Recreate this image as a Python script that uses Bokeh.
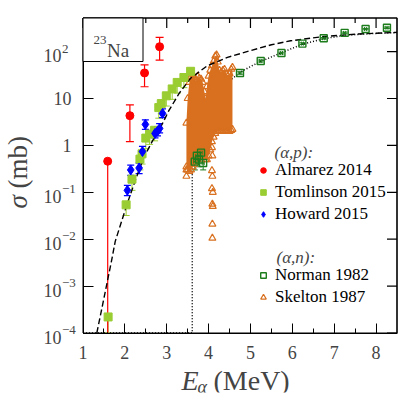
import math
from bokeh.plotting import figure
from bokeh.models import (ColumnDataSource, Whisker, TeeHead, FixedTicker, Legend, LegendItem,
                          Label, BoxAnnotation, BasicTickFormatter)
from bokeh.embed import file_html
from bokeh.resources import INLINE

# ---------------- data ----------------
x_ticks = [1, 2, 3, 4, 5, 6, 7, 8]
x_minor = [1.5, 2.5, 3.5, 4.5, 5.5, 6.5, 7.5]
x_tick_labels = ["1", "2", "3", "4", "5", "6", "7", "8"]
y_ticks = [1e-4, 1e-3, 1e-2, 1e-1, 1, 10, 100]
y_tick_base = ["10", "10", "10", "10", "1", "10", "10"]
y_tick_exp = ["\u22124", "\u22123", "\u22122", "\u22121", "", "", "2"]

# (alpha,p) Almarez 2014
alm_x = [1.59, 2.12, 2.47, 2.83]
alm_y = [0.46, 4.3, 35.0, 127.0]
alm_lo = [1e-4, 1.2, 17.8, 66.0]
alm_hi = [0.46, 7.3, 52.0, 201.0]

# (alpha,p) Tomlinson 2015
tom_x = [1.60, 2.03, 2.17, 2.36, 2.41, 2.50, 2.59, 2.71, 2.81, 2.87, 2.99, 3.13, 3.25, 3.41, 3.57]
tom_y = [2.2e-4, 0.054, 0.19, 0.51, 0.66, 1.43, 1.74, 2.1, 6.4, 7.8, 11.4, 16.0, 22.0, 28.0, 38.0]
tom_lo = [1e-4, 0.032, 0.11, 0.30, 0.40, 0.85, 1.05, 1.25, 3.8, 4.7, 6.9, 9.6, 13.0, 17.0, 23.0]
tom_hi = [2.6e-4, 0.062, 0.22, 0.58, 0.76, 1.65, 2.0, 2.4, 7.4, 9.0, 13.0, 18.5, 25.0, 32.0, 44.0]

# (alpha,p) Howard 2015
how_x = [2.06, 2.14, 2.34, 2.42, 2.49, 2.72, 2.78, 2.83, 2.90]
how_y = [0.11, 0.30, 0.33, 0.74, 2.8, 1.8, 2.0, 2.3, 4.8]
how_lo = [0.085, 0.23, 0.25, 0.6, 2.2, 1.45, 1.6, 1.85, 3.9]
how_hi = [0.14, 0.38, 0.42, 0.95, 3.5, 2.25, 2.5, 2.9, 6.0]

# (alpha,n) Norman 1982
nor_x = [3.67, 3.72, 3.77, 3.82, 3.87, 4.75, 5.245, 5.74, 6.24, 6.75, 7.25, 7.75, 8.26]
nor_y = [0.45, 0.60, 0.50, 0.70, 0.42, 35.0, 63.0, 93.0, 148.0, 192.0, 250.0, 302.0, 323.0]
nor_lo = [0.30, 0.40, 0.35, 0.50, 0.30, 33.0, 60.0, 89.0, 142.0, 185.0, 240.0, 292.0, 312.0]
nor_hi = [0.60, 1.25, 0.80, 1.05, 0.55, 37.0, 66.0, 97.0, 154.0, 199.0, 260.0, 312.0, 334.0]
nor_dx = 0.025

# (alpha,n) Skelton 1987: envelope of the dense resonance data and isolated points
sk_env_x = [3.47, 3.50, 3.54, 3.58, 3.62, 3.66, 3.70, 3.74, 3.78, 3.82, 3.86, 3.90, 3.93, 3.96,
            4.00, 4.04, 4.08, 4.12, 4.16, 4.19, 4.22, 4.26, 4.30, 4.34, 4.38, 4.42, 4.46, 4.50,
            4.54, 4.57]
sk_env_hi = [3, 10, 22, 30, 33, 28, 24, 30, 27, 26, 22, 14, 10, 18,
             30, 40, 50, 62, 80, 85, 60, 40, 36, 40, 42, 34, 30, 34,
             42, 46]
sk_env_lo = [0.35, 0.30, 0.28, 0.30, 0.35, 0.40, 0.45, 0.50, 0.55, 0.60, 0.60, 0.55, 0.50, 0.50,
             0.60, 0.80, 1.2, 1.5, 1.8, 2.0, 2.0, 2.0, 2.1, 2.0, 2.0, 2.1, 2.0, 2.0,
             2.1, 2.2]
sk_out_x = [3.47, 3.47, 4.08, 4.09, 4.08, 4.10, 4.09, 4.10, 4.09, 4.09, 4.08, 4.09]
sk_out_y = [0.22, 0.30, 0.29, 0.22, 0.12, 0.10, 0.056, 0.05, 0.021, 0.0105, 0.9, 0.6]

# model curves
dash_x = [1.33, 1.50, 1.68, 1.77, 2.05, 2.25, 2.45, 2.65, 2.85, 3.05, 3.30, 3.57, 3.97, 4.45,
          5.00, 5.50, 5.96, 6.75, 7.50, 8.50]
dash_y = [1e-4, 5.5e-4, 3.4e-3, 9e-3, 0.055, 0.18, 0.55, 1.2, 2.4, 5.5, 13, 27, 50, 75,
          105, 140, 170, 209, 235, 257]
dot_x = [1.0, 3.61, 3.61, 3.70, 3.90, 4.10, 4.40, 4.75, 5.00, 5.25, 5.75, 6.25, 6.75, 7.25,
         7.75, 8.50]
dot_y = [1e-4, 1e-4, 0.3, 1.5, 5, 10, 20, 36, 48, 62, 95, 145, 188, 222, 238, 255]

# ---------------- layout ----------------
# data box in page pixels (pixel centres); the drawing frame is larger so nothing is clipped
XMIN, XMAX = 1.0, 8.5
YMIN, YMAX = 1e-4, 520.0
BL, BR, BT, BB = 82.5, 396.5, 17.5, 332.5
W, H = 408, 395
ML, MR, MT, MB = 3, 3, 3, 3
FL, FR, FT, FB = ML, W - MR, MT, H - MB
LA, LB = math.log10(YMIN), math.log10(YMAX)
PPX = (BR - BL) / (XMAX - XMIN)
PPD = (BB - BT) / (LB - LA)
X0 = XMIN - (BL - FL) / PPX
X1 = XMAX + (FR - BR) / PPX
Y0 = 10 ** (LA - (FB - BB) / PPD)
Y1 = 10 ** (LB + (BT - FT) / PPD)
TMAJ, TMIN = 10, 5


def xd(px):
    return XMIN + (px - BL) / PPX


def yd(py):
    return 10 ** (LA + (BB - py) / PPD)


def ypx(v):
    return BB - (math.log10(v) - LA) * PPD


FONT = "Liberation Serif"
RED = "#ff0000"
YG = "#9acd32"
BLUE = "#0000ff"
GREEN = "#1c7c1c"
ORANGE = "#d8701f"

p = figure(width=W, height=H, x_range=(X0, X1), y_range=(Y0, Y1), y_axis_type="log",
           output_backend="svg", toolbar_location=None,
           min_border_left=ML, min_border_right=MR, min_border_top=MT, min_border_bottom=MB)
p.xgrid.visible = False
p.ygrid.visible = False
p.outline_line_color = None
p.background_fill_color = "white"
p.border_fill_color = "white"

xt = FixedTicker(ticks=x_ticks, minor_ticks=x_minor)
yt = FixedTicker(ticks=y_ticks, minor_ticks=[])


def style_axis(ax, ticks, bounds, loc):
    ax.bounds = bounds
    ax.fixed_location = loc
    ax.major_tick_in = TMAJ
    ax.major_tick_out = 0
    ax.minor_tick_in = TMIN
    ax.minor_tick_out = 0
    ax.axis_line_color = "black"
    ax.axis_line_width = 1
    ax.major_tick_line_color = "black"
    ax.minor_tick_line_color = "black"
    ax.axis_label = None
    ax.formatter = BasicTickFormatter()
    ax.major_label_overrides = {t: "" for t in ticks}
    ax.major_label_text_font_size = "1px"
    ax.major_label_text_alpha = 0
    ax.major_label_standoff = 0


bx = p.xaxis[0]
bx.ticker = xt
style_axis(bx, x_ticks, (XMIN, XMAX), YMIN)
ly = p.yaxis[0]
ly.ticker = yt
style_axis(ly, y_ticks, (YMIN, YMAX), XMIN)

# frame border of the data box and the mirrored ticks on its top and right sides
p.add_layout(BoxAnnotation(left=XMIN, right=XMAX, bottom=YMIN, top=YMAX, fill_alpha=0,
                           line_color="black", line_width=1, line_alpha=1, level="underlay"))
p.line(x=[XMIN, XMAX, XMAX], y=[YMAX, YMAX, YMIN], line_color="black", line_width=1.2)
p.segment(x0=x_ticks, x1=x_ticks, y0=[YMAX] * len(x_ticks),
          y1=[YMAX / 10 ** (TMAJ / PPD)] * len(x_ticks), line_color="black", line_width=1.2)
p.segment(x0=x_minor, x1=x_minor, y0=[YMAX] * len(x_minor),
          y1=[YMAX / 10 ** (TMIN / PPD)] * len(x_minor), line_color="black", line_width=1.2)
p.segment(x0=[XMAX] * len(y_ticks), x1=[XMAX - TMAJ / PPX] * len(y_ticks), y0=y_ticks,
          y1=y_ticks, line_color="black", line_width=1.2)

# ---------------- curves ----------------
p.line(dot_x, dot_y, line_color="black", line_width=1.5, line_dash="1 2")

# Skelton
p.varea(x=sk_env_x, y1=sk_env_lo, y2=sk_env_hi, fill_color=ORANGE, fill_alpha=1)
sk_x = sk_env_x + sk_env_x + sk_out_x
sk_y = sk_env_lo + sk_env_hi + sk_out_y
r_sk = p.scatter(sk_x, sk_y, marker="triangle", size=7, fill_color=None,
                 line_color=ORANGE, line_width=1.2)

p.line(dash_x, dash_y, line_color="black", line_width=1.4, line_dash="6 3")

# Norman
src_nor = ColumnDataSource(dict(x=nor_x, y=nor_y, lo=nor_lo, hi=nor_hi,
                                xl=[v - nor_dx for v in nor_x], xh=[v + nor_dx for v in nor_x]))
p.add_layout(Whisker(source=src_nor, base="x", lower="lo", upper="hi", line_color=GREEN,
                     line_width=1,
                     lower_head=TeeHead(size=6, line_color=GREEN, line_width=1),
                     upper_head=TeeHead(size=6, line_color=GREEN, line_width=1)))
r_nor = p.scatter("x", "y", source=src_nor, marker="square", size=7, fill_color="white",
                  fill_alpha=0, line_color=GREEN, line_width=1.4)
p.add_layout(Whisker(source=src_nor, base="y", lower="xl", upper="xh", dimension="width",
                     line_color=GREEN, line_width=1, level="glyph",
                     lower_head=TeeHead(size=4, line_color=GREEN, line_width=1),
                     upper_head=TeeHead(size=4, line_color=GREEN, line_width=1)))

# Tomlinson
src_tom = ColumnDataSource(dict(x=tom_x, y=tom_y, lo=tom_lo, hi=tom_hi))
p.add_layout(Whisker(source=src_tom, base="x", lower="lo", upper="hi", line_color=YG,
                     line_width=1,
                     lower_head=TeeHead(size=7, line_color=YG, line_width=1),
                     upper_head=TeeHead(size=7, line_color=YG, line_width=1)))
r_tom = p.scatter("x", "y", source=src_tom, marker="square", size=8, fill_color=YG,
                  line_color=YG)

# Howard
src_how = ColumnDataSource(dict(x=how_x, y=how_y, lo=how_lo, hi=how_hi))
p.add_layout(Whisker(source=src_how, base="x", lower="lo", upper="hi", line_color=BLUE,
                     line_width=1.2,
                     lower_head=TeeHead(size=7, line_color=BLUE, line_width=1.2),
                     upper_head=TeeHead(size=7, line_color=BLUE, line_width=1.2)))
r_how = p.scatter("x", "y", source=src_how, marker="diamond", size=10, fill_color=BLUE,
                  line_color=BLUE)

# Almarez
src_alm0 = ColumnDataSource(dict(x=alm_x[:1], y=alm_y[:1], lo=alm_lo[:1], hi=alm_hi[:1]))
src_alm = ColumnDataSource(dict(x=alm_x[1:], y=alm_y[1:], lo=alm_lo[1:], hi=alm_hi[1:]))
p.add_layout(Whisker(source=src_alm0, base="x", lower="lo", upper="hi", line_color=RED,
                     line_width=1.2, lower_head=None, upper_head=None))
p.add_layout(Whisker(source=src_alm, base="x", lower="lo", upper="hi", line_color=RED,
                     line_width=1.2,
                     lower_head=TeeHead(size=8, line_color=RED, line_width=1.2),
                     upper_head=TeeHead(size=8, line_color=RED, line_width=1.2)))
r_alm = p.scatter(alm_x, alm_y, marker="circle", size=8, fill_color=RED, line_color=RED)

# ---------------- 23Na box ----------------
p.add_layout(BoxAnnotation(left=XMIN, right=xd(142.5), bottom=yd(61), top=YMAX,
                           fill_color="white", fill_alpha=1, line_color="black",
                           line_width=1, line_alpha=1))
p.add_layout(Label(x=xd(93), y=yd(39), text="23", text_font=FONT, text_font_size="13px",
                   text_baseline="alphabetic"))
p.add_layout(Label(x=xd(106.5), y=yd(50), text="Na", text_font=FONT, text_font_size="19px",
                   text_baseline="alphabetic"))

# ---------------- tick labels ----------------
for v, b, e in zip(y_ticks, y_tick_base, y_tick_exp):
    ty = ypx(v)
    if e:
        p.add_layout(Label(x=xd(61), y=yd(ty + 4), text=b, text_font=FONT,
                           text_font_size="18px", text_align="right", text_baseline="middle"))
        p.add_layout(Label(x=xd(61.5), y=yd(ty - 3), text=e, text_font=FONT,
                           text_font_size="13px", text_align="left", text_baseline="middle"))
    else:
        p.add_layout(Label(x=xd(71), y=yd(ty), text=b, text_font=FONT,
                           text_font_size="18px", text_align="right", text_baseline="middle"))

for v, t in zip(x_ticks, x_tick_labels):
    p.add_layout(Label(x=v, y=yd(352), text=t, text_font=FONT, text_font_size="18px",
                       text_align="center", text_baseline="middle"))

# ---------------- axis titles ----------------
p.add_layout(Label(x=xd(17), y=yd(208), text="\u03c3", text_font=FONT, text_font_size="27px",
                   text_font_style="italic", angle=math.pi / 2, text_align="left",
                   text_baseline="middle"))
p.add_layout(Label(x=xd(17), y=yd(188), text="(mb)", text_font=FONT, text_font_size="27px",
                   angle=math.pi / 2, text_align="left", text_baseline="middle"))
p.add_layout(Label(x=xd(181), y=yd(380), text="E", text_font=FONT, text_font_size="28px",
                   text_font_style="italic", text_baseline="alphabetic"))
p.add_layout(Label(x=xd(197), y=yd(386), text="\u03b1", text_font=FONT, text_font_size="18px",
                   text_font_style="italic", text_baseline="alphabetic"))
p.add_layout(Label(x=xd(213), y=yd(380), text="(MeV)", text_font=FONT, text_font_size="28px",
                   text_baseline="alphabetic"))

# ---------------- legends ----------------
p.add_layout(Label(x=xd(274), y=yd(152), text="(\u03b1,p):", text_font=FONT,
                   text_font_size="17px", text_font_style="italic", text_baseline="middle"))
p.add_layout(Label(x=xd(276), y=yd(257), text="(\u03b1,n):", text_font=FONT,
                   text_font_size="17px", text_font_style="italic", text_baseline="middle"))


def make_legend(items, loc):
    lg = Legend(items=items, location=loc, orientation="vertical",
                label_text_font=FONT, label_text_font_size="17px", label_text_color="black",
                glyph_width=14, glyph_height=16, label_height=19, label_standoff=5,
                spacing=2, padding=0, margin=0, border_line_alpha=0,
                background_fill_alpha=0)
    p.add_layout(lg)


make_legend([LegendItem(label="Almarez 2014", renderers=[r_alm]),
             LegendItem(label="Tomlinson 2015", renderers=[r_tom]),
             LegendItem(label="Howard 2015", renderers=[r_how])],
            (174 + 82 - FL, 108 + FB - 332))
make_legend([LegendItem(label="Norman 1982", renderers=[r_nor]),
             LegendItem(label="Skelton 1987", renderers=[r_sk])],
            (174 + 82 - FL, 25 + FB - 332))

open("out.html", "w").write(file_html(p, INLINE))
